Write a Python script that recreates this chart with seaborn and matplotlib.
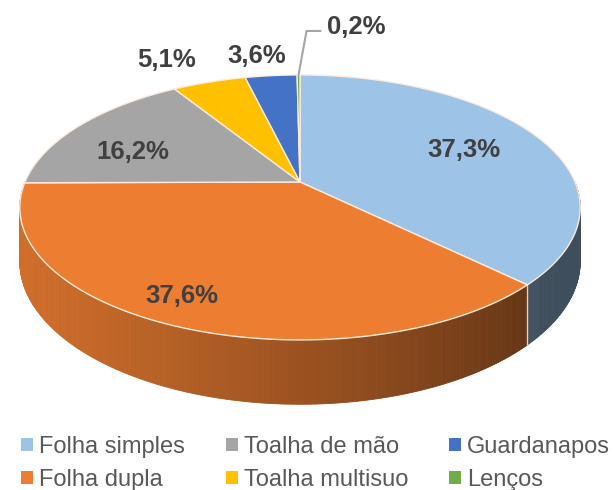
import numpy as np
import matplotlib
matplotlib.use("Agg")
import matplotlib.pyplot as plt
from matplotlib.patches import Patch
import seaborn as sns

# data
categories = ["Folha simples", "Folha dupla", "Toalha de mão",
              "Toalha multisuo", "Guardanapos", "Lenços"]
shares = [37.3, 37.6, 16.2, 5.1, 3.6, 0.2]
colors = ["#9DC3E6", "#ED7D31", "#A5A5A5", "#FFC000", "#4472C4", "#70AD47"]

# label layout: radius factor and pixel nudges for each slice label
label_r = [0.68, 0.82, 0.70, 1.27, 1.24, 1.0]
label_dx = [0, -19, -9, -23, -9, 0]
label_dy = [0, 0, 10, 0, 1, 0]

sns.set_theme(style="white")
plt.rcParams["font.family"] = ["Liberation Sans", "DejaVu Sans"]

# perspective geometry of the pie (pixel units)
CX, CY, A, B, K, D = 300, 182, 275, 127.6, 0.192, 52


def project(theta, r=1.0, depth=0.0):
    t = np.radians(theta)
    u, v = r * np.cos(t), r * np.sin(t)
    w = 1 + K * v
    return CX + A * u / w, CY - B * v / w + depth * D / w


def shade(hex_color, theta):
    f = max(0.4, 0.58 + 0.3 * np.cos(np.radians(theta - 195)))
    rgb = np.array(matplotlib.colors.to_rgb(hex_color)) * f
    return np.clip(rgb, 0, 1)


fig = plt.figure(figsize=(6.14, 4.9), dpi=100)
ax = fig.add_axes([0, 0, 1, 1])
ax.set_xlim(0, 614)
ax.set_ylim(490, 0)
ax.axis("off")

fr = np.array(shares) / sum(shares)
starts = 90 - 360 * np.concatenate([[0], np.cumsum(fr)[:-1]])
ends = starts - 360 * fr

# side walls (front half only)
for start, end, c in zip(starts, ends, colors):
    ts = np.linspace(end, start, max(int((start - end) * 2), 2))
    for t0, t1 in zip(ts[:-1], ts[1:]):
        tm = (t0 + t1) / 2
        if np.sin(np.radians(tm)) > 0.01:
            continue
        x0, y0 = project(t0)
        x1, y1 = project(t1)
        x2, y2 = project(t1, depth=1)
        x3, y3 = project(t0, depth=1)
        col = shade(c, tm % 360)
        ax.fill([x0, x1, x2, x3], [y0, y1, y2, y3], color=col, lw=0.6,
                ec=col, zorder=1)

# boundaries on the side wall
for t in starts:
    if np.sin(np.radians(t)) < -0.05:
        xa, ya = project(t)
        xb, yb = project(t, depth=1)
        ax.plot([xa, xb], [ya, yb], color="#E9CDB6", lw=1.0, zorder=2)

# top face
for start, end, c in zip(starts, ends, colors):
    ts = np.linspace(start, end, max(int((start - end) * 2), 3))
    xs, ys = project(ts)
    ax.fill(np.r_[CX, xs], np.r_[CY, ys], color=c, ec="#FCEBDD", lw=1.0,
            zorder=3)

# data labels
for i, (s, start, end) in enumerate(zip(shares, starts, ends)):
    txt = f"{s:.1f}%".replace(".", ",")
    mid = (start + end) / 2
    if i == len(shares) - 1:
        xr, yr = project(mid, r=label_r[i])
        ex, ey = xr + 8, yr - 44
        ax.plot([xr, ex, ex + 14], [yr, ey, ey], color="#A6A6A6", lw=1.5,
                zorder=4)
        ax.text(ex + 20, ey - 4, txt, ha="left", va="center",
                fontsize=18.5, fontweight="bold", color="#404040", zorder=5)
        continue
    x, y = project(mid, r=label_r[i])
    ax.text(x + label_dx[i], y + label_dy[i], txt, ha="center", va="center",
            fontsize=18.5, fontweight="bold", color="#404040", zorder=5)

handles = [Patch(facecolor=c, edgecolor="none") for c in colors]
leg = ax.legend(handles, categories, ncol=3, loc="upper left",
                bbox_to_anchor=(21, 436), bbox_transform=ax.transData,
                frameon=False, fontsize=17, handlelength=0.5,
                handleheight=0.5, handletextpad=0.25, columnspacing=1.75,
                labelspacing=0.45, borderpad=0, borderaxespad=0)
for t in leg.get_texts():
    t.set_color("#595959")

fig.savefig("out.png", dpi=100)
